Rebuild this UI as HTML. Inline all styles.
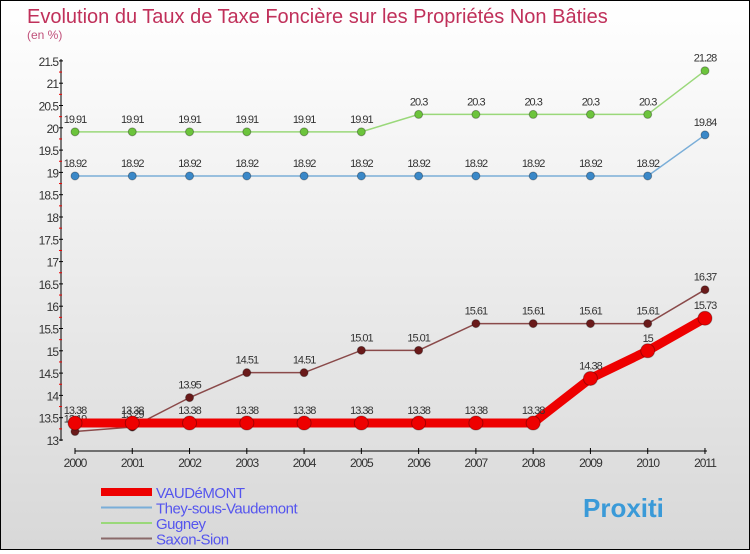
<!DOCTYPE html>
<html><head><meta charset="utf-8"><style>
body{margin:0}
#c{width:748px;height:548px;border:1px solid #000;background:linear-gradient(#fff,#d8d8d8);position:relative;font-family:"Liberation Sans",sans-serif}
</style></head><body>
<div id="c">
<svg id="s" width="748" height="548"></svg>
</div>
<script>
const years=["2000","2001","2002","2003","2004","2005","2006","2007","2008","2009","2010","2011"];
const vaud=[13.38,13.38,13.38,13.38,13.38,13.38,13.38,13.38,13.38,14.38,15,15.73];
const they=[18.92,18.92,18.92,18.92,18.92,18.92,18.92,18.92,18.92,18.92,18.92,19.84];
const gug=[19.91,19.91,19.91,19.91,19.91,19.91,20.3,20.3,20.3,20.3,20.3,21.28];
const sax=[13.19,13.29,13.95,14.51,14.51,15.01,15.01,15.61,15.61,15.61,15.61,16.37];
const yTicks=[13,13.5,14,14.5,15,15.5,16,16.5,17,17.5,18,18.5,19,19.5,20,20.5,21,21.5];
const s=document.getElementById('s');const NS='http://www.w3.org/2000/svg';
function X(i){return 74+i*57.27;}
function Y(v){return 439-(v-13)*44.6;}
function el(t,a,txt){const e=document.createElementNS(NS,t);for(const k in a)e.setAttribute(k,a[k]);if(txt!==undefined)e.textContent=txt;s.appendChild(e);return e;}
let e;
e=el('text',{x:26,y:22,'font-size':20,fill:'#c0305a'},'Evolution du Taux de Taxe Foncière sur les Propriétés Non Bâties');

e=el('text',{x:26,y:38,'font-size':12,fill:'#c0507a'},'(en %)');

e=el('line',{x1:60,y1:58,x2:60,y2:440,stroke:'#000'});

yTicks.forEach((v,i)=>{
 e=el('line',{x1:58,x2:62,y1:Y(v),y2:Y(v),stroke:'#000'});
 
 if(i<yTicks.length-1){
 e=el('line',{x1:58,x2:61,y1:Y(v+0.25),y2:Y(v+0.25),stroke:'#e00'});
 
 }
 e=el('text',{x:57,y:Y(v)+5,'font-size':12,fill:'#333','text-anchor':'end','letter-spacing':'-1'},String(v));
 
});
e=el('line',{x1:74,y1:450,x2:706,y2:450,stroke:'#000'});

years.forEach((y,i)=>{
 e=el('line',{x1:X(i),x2:X(i),y1:447,y2:453,stroke:'#000'});
 
 e=el('text',{x:X(i),y:466,'font-size':12,fill:'#333','text-anchor':'middle','letter-spacing':'-1'},y);
 
});
function series(d,col,w,r,name,ptcol){
 e=el('polyline',{points:d.map((v,i)=>X(i)+','+Y(v)).join(' '),fill:'none',stroke:col,'stroke-width':w});
 
 d.forEach((v,i)=>{
  e=el('circle',{cx:X(i),cy:Y(v),r:r,fill:ptcol,stroke:'rgba(0,0,0,0.3)'});
  
  e=el('text',{x:X(i),y:Y(v)-9,'font-size':11,fill:'#333','text-anchor':'middle','letter-spacing':'-1'},String(v));
  
 });
}
series(gug,'#9ad87a',1.5,4,'gugney','#6cc43c');
series(they,'#7aaed8',1.5,4,'they','#3a88c8');
series(sax,'#8a4a4a',1.5,4,'saxon','#6a1a1a');
series(vaud,'#ee0000',9,7,'vaudemont','#ee0000');
const leg=[['VAUDéMONT','#ee0000',8],['They-sous-Vaudemont','#7aaed8',2],['Gugney','#9ad87a',2],['Saxon-Sion','#8a6a6a',2]];
leg.forEach((l,i)=>{
 const y=491+i*15.5;
 e=el('line',{x1:100,x2:151,y1:y,y2:y,stroke:l[1],'stroke-width':l[2]});
 
 e=el('text',{x:155,y:y+6,'font-size':15,fill:'#5555ee','letter-spacing':'-0.5'},l[0]);
 
});
e=el('text',{x:582,y:516,'font-size':26,'font-weight':'bold',fill:'#3a9ad8'},'Proxiti');

</script>
</body></html>
